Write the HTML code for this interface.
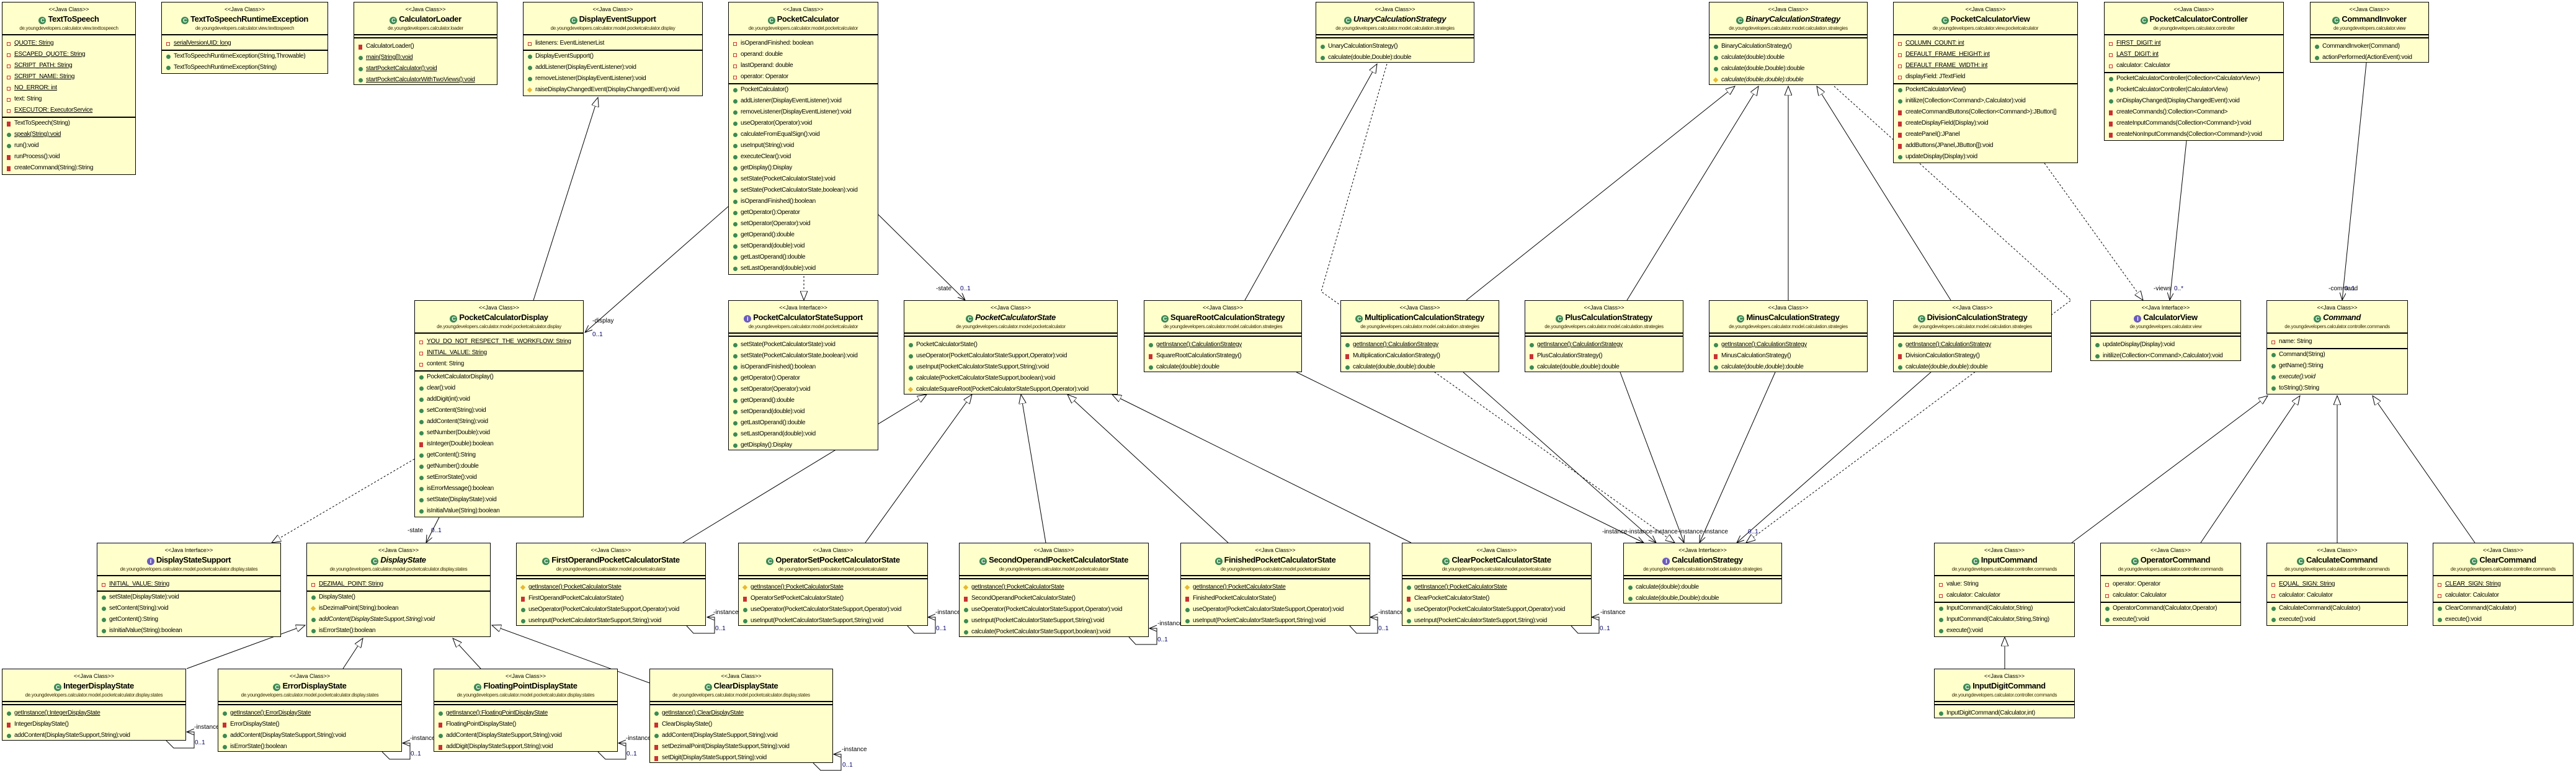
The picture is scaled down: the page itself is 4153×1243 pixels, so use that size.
<!DOCTYPE html>
<html><head><meta charset="utf-8"><style>
body{margin:0;width:4153px;height:1243px;background:#fff;position:relative;overflow:hidden;font-family:"Liberation Sans",sans-serif}
.b{position:absolute;background:#ffffcc;border:1.5px solid #000;box-sizing:border-box;overflow:hidden;z-index:2}
.h{height:51px;text-align:center;border-bottom:2px solid #000;white-space:nowrap}
.st{font-size:9px;padding-top:5px;height:12px;line-height:12px}
.nm{font-size:13px;font-weight:bold;height:19px;line-height:19px;letter-spacing:-0.4px}
.nm.it{font-style:italic}
.pk{font-size:8px;line-height:11px;color:#3a2a00;letter-spacing:-0.3px}
.ci{display:inline-block;width:12px;height:12px;border-radius:50%;background:#3c8a52;color:#fff;font-size:9px;line-height:12px;text-align:center;vertical-align:-1px;margin-right:3px;font-style:normal}
.ci.i{background:#6a5bc0}
.s{border-bottom:2px solid #000;padding:4px 0 1px}
.s.e{padding:0;height:3px}
.r{height:18px;line-height:18px;font-size:10px;white-space:nowrap;padding-left:19px;position:relative;letter-spacing:-0.3px}
.r i{position:absolute;left:7px;top:6px;width:7px;height:7px;border-radius:50%;background:#3c8a52}
.r i.p{border-radius:0;background:#c83232;width:6px;height:8px}
.r i.y{transform:rotate(45deg);background:#e8b830;border-radius:0;width:6px;height:6px}
.r i.f{border-radius:0;width:4px;height:4px;background:none;border:1px solid #c33;top:7px}
.u{text-decoration:underline}
.it2{font-style:italic}
svg{position:absolute;left:0;top:0;z-index:1}
.lb{font-family:"Liberation Sans",sans-serif;font-size:10px;fill:#000}
.lb2{font-family:"Liberation Sans",sans-serif;font-size:10px;fill:#000066}
</style></head><body>

<svg width="4153" height="1243">
<defs>
<marker id="t" markerWidth="16" markerHeight="12" refX="15" refY="6" orient="auto" markerUnits="userSpaceOnUse"><path d="M0,0 L15,6 L0,12 z" fill="#fff" stroke="#000"/></marker>
<marker id="a" markerWidth="13" markerHeight="11" refX="12" refY="5" orient="auto" markerUnits="userSpaceOnUse"><path d="M0,0 L12,5 L0,10" fill="none" stroke="#000"/></marker>
</defs>
<g stroke="#000" stroke-width="1" fill="none">
<line x1="860" y1="484" x2="964" y2="157" marker-end="url(#t)"/>
<line x1="1174" y1="333" x2="943" y2="536" marker-end="url(#a)"/>
<line x1="1296" y1="445" x2="1296" y2="484" stroke-dasharray="3,3" marker-end="url(#t)"/>
<line x1="1416" y1="346" x2="1556" y2="484" marker-end="url(#a)"/>
<line x1="2007" y1="484" x2="2220" y2="103" marker-end="url(#t)"/>
<polyline points="2236,103 2130,470 2700,875" stroke-dasharray="3,3" marker-end="url(#t)"/>
<line x1="2364" y1="484" x2="2797" y2="139" marker-end="url(#t)"/>
<line x1="2623" y1="484" x2="2835" y2="139" marker-end="url(#t)"/>
<line x1="2883" y1="484" x2="2883" y2="139" marker-end="url(#t)"/>
<line x1="3145" y1="484" x2="2929" y2="139" marker-end="url(#t)"/>
<polyline points="2957,139 3339,484 2815,875" stroke-dasharray="3,3" marker-end="url(#t)"/>
<line x1="3296" y1="263" x2="3455" y2="484" stroke-dasharray="3,3" marker-end="url(#t)"/>
<line x1="3525" y1="227" x2="3498" y2="484" marker-end="url(#a)"/>
<line x1="3815" y1="101" x2="3776" y2="484" marker-end="url(#a)"/>
<line x1="2090" y1="600" x2="2650" y2="875" marker-end="url(#a)"/>
<line x1="2359" y1="600" x2="2670" y2="875" marker-end="url(#a)"/>
<line x1="2612" y1="600" x2="2715" y2="875" marker-end="url(#a)"/>
<line x1="2862" y1="600" x2="2740" y2="875" marker-end="url(#a)"/>
<line x1="3113" y1="600" x2="2800" y2="875" marker-end="url(#a)"/>
<line x1="1101" y1="875" x2="1494" y2="636" marker-end="url(#t)"/>
<line x1="1395" y1="875" x2="1567" y2="636" marker-end="url(#t)"/>
<line x1="1686" y1="875" x2="1646" y2="636" marker-end="url(#t)"/>
<line x1="1980" y1="875" x2="1721" y2="636" marker-end="url(#t)"/>
<line x1="2275" y1="875" x2="1793" y2="636" marker-end="url(#t)"/>
<line x1="301" y1="1078" x2="492" y2="1008" marker-end="url(#t)"/>
<line x1="553" y1="1078" x2="585" y2="1029" marker-end="url(#t)"/>
<line x1="775" y1="1078" x2="730" y2="1029" marker-end="url(#t)"/>
<line x1="1047" y1="1101" x2="793" y2="1008" marker-end="url(#t)"/>
<line x1="708" y1="834" x2="687" y2="875" marker-end="url(#a)"/>
<line x1="668" y1="740" x2="438" y2="875" stroke-dasharray="3,3" marker-end="url(#t)"/>
<line x1="3340" y1="875" x2="3656" y2="638" marker-end="url(#t)"/>
<line x1="3548" y1="875" x2="3708" y2="638" marker-end="url(#t)"/>
<line x1="3768" y1="875" x2="3768" y2="638" marker-end="url(#t)"/>
<line x1="3990" y1="875" x2="3825" y2="638" marker-end="url(#t)"/>
<line x1="3232" y1="1078" x2="3232" y2="1027" marker-end="url(#t)"/>
<polyline points="1107,1009 1118,1021 1152,1021 1152,995 1140,995" marker-end="url(#a)"/>
<polyline points="1463,1009 1474,1021 1508,1021 1508,995 1496,995" marker-end="url(#a)"/>
<polyline points="1820,1027 1831,1039 1865,1039 1865,1013 1853,1013" marker-end="url(#a)"/>
<polyline points="2176,1009 2187,1021 2221,1021 2221,995 2209,995" marker-end="url(#a)"/>
<polyline points="2533,1009 2544,1021 2578,1021 2578,995 2566,995" marker-end="url(#a)"/>
<polyline points="268,1194 280,1206 313,1206 313,1180 301,1180" marker-end="url(#a)"/>
<polyline points="616,1212 628,1224 661,1224 661,1198 649,1198" marker-end="url(#a)"/>
<polyline points="964,1212 976,1224 1009,1224 1009,1198 997,1198" marker-end="url(#a)"/>
<polyline points="1311,1230 1323,1242 1356,1242 1356,1216 1344,1216" marker-end="url(#a)"/>
</g>
<text class="lb" x="955" y="520">-display</text><text class="lb2" x="955" y="542">0..1</text>
<text class="lb" x="1509" y="468">-state</text><text class="lb2" x="1548" y="468">0..1</text>
<text class="lb" x="3472" y="468">-views</text><text class="lb2" x="3505" y="468">0..*</text>
<text class="lb" x="3754" y="468">-command</text><text class="lb2" x="3780" y="468">0..1</text>
<text class="lb" x="657" y="858">-state</text><text class="lb2" x="695" y="858">0..1</text>
<text class="lb" x="2583" y="860">-instance-instance-instance-instance-instance</text>
<text class="lb2" x="2818" y="860">0..1</text>
<text class="lb" x="1150" y="990">-instance</text><text class="lb2" x="1153" y="1016">0..1</text>
<text class="lb" x="1508" y="990">-instance</text><text class="lb2" x="1509" y="1016">0..1</text>
<text class="lb" x="1866" y="1008">-instance</text><text class="lb2" x="1866" y="1034">0..1</text>
<text class="lb" x="2222" y="990">-instance</text><text class="lb2" x="2222" y="1016">0..1</text>
<text class="lb" x="2580" y="990">-instance</text><text class="lb2" x="2579" y="1016">0..1</text>
<text class="lb" x="313" y="1175">-instance</text><text class="lb2" x="314" y="1200">0..1</text>
<text class="lb" x="661" y="1193">-instance</text><text class="lb2" x="662" y="1218">0..1</text>
<text class="lb" x="1009" y="1193">-instance</text><text class="lb2" x="1010" y="1218">0..1</text>
<text class="lb" x="1357" y="1211">-instance</text><text class="lb2" x="1358" y="1236">0..1</text>
</svg>

<!-- Row 1 -->
<div class="b" style="left:3px;top:3px;width:216px;height:279px"><div class="h"><div class="st">&lt;&lt;Java Class&gt;&gt;</div><div class="nm"><span class="ci">C</span>TextToSpeech</div><div class="pk">de.youngdevelopers.calculator.view.texttospeech</div></div>
<div class="s"><div class="r"><i class="f"></i><span class="u">QUOTE: String</span></div><div class="r"><i class="f"></i><span class="u">ESCAPED_QUOTE: String</span></div><div class="r"><i class="f"></i><span class="u">SCRIPT_PATH: String</span></div><div class="r"><i class="f"></i><span class="u">SCRIPT_NAME: String</span></div><div class="r"><i class="f"></i><span class="u">NO_ERROR: int</span></div><div class="r"><i class="f"></i>text: String</div><div class="r"><i class="f"></i><span class="u">EXECUTOR: ExecutorService</span></div></div>
<div><div class="r"><i class="p"></i>TextToSpeech(String)</div><div class="r"><i></i><span class="u">speak(String):void</span></div><div class="r"><i></i>run():void</div><div class="r"><i class="p"></i>runProcess():void</div><div class="r"><i class="p"></i>createCommand(String):String</div></div></div>

<div class="b" style="left:260px;top:3px;width:269px;height:116px"><div class="h"><div class="st">&lt;&lt;Java Class&gt;&gt;</div><div class="nm"><span class="ci">C</span>TextToSpeechRuntimeException</div><div class="pk">de.youngdevelopers.calculator.view.texttospeech</div></div>
<div class="s"><div class="r"><i class="f"></i><span class="u">serialVersionUID: long</span></div></div>
<div><div class="r"><i></i>TextToSpeechRuntimeException(String,Throwable)</div><div class="r"><i></i>TextToSpeechRuntimeException(String)</div></div></div>

<div class="b" style="left:570px;top:3px;width:232px;height:134px"><div class="h"><div class="st">&lt;&lt;Java Class&gt;&gt;</div><div class="nm"><span class="ci">C</span>CalculatorLoader</div><div class="pk">de.youngdevelopers.calculator.loader</div></div>
<div class="s e"></div>
<div style="padding-top:4px"><div class="r"><i class="p"></i>CalculatorLoader()</div><div class="r"><i></i><span class="u">main(String[]):void</span></div><div class="r"><i></i><span class="u">startPocketCalculator():void</span></div><div class="r"><i></i><span class="u">startPocketCalculatorWithTwoViews():void</span></div></div></div>

<div class="b" style="left:843px;top:3px;width:290px;height:152px"><div class="h"><div class="st">&lt;&lt;Java Class&gt;&gt;</div><div class="nm"><span class="ci">C</span>DisplayEventSupport</div><div class="pk">de.youngdevelopers.calculator.model.pocketcalculator.display</div></div>
<div class="s"><div class="r"><i class="f"></i>listeners: EventListenerList</div></div>
<div><div class="r"><i></i>DisplayEventSupport()</div><div class="r"><i></i>addListener(DisplayEventListener):void</div><div class="r"><i></i>removeListener(DisplayEventListener):void</div><div class="r"><i class="y"></i>raiseDisplayChangedEvent(DisplayChangedEvent):void</div></div></div>

<div class="b" style="left:1174px;top:3px;width:242px;height:440px"><div class="h"><div class="st">&lt;&lt;Java Class&gt;&gt;</div><div class="nm"><span class="ci">C</span>PocketCalculator</div><div class="pk">de.youngdevelopers.calculator.model.pocketcalculator</div></div>
<div class="s"><div class="r"><i class="f"></i>isOperandFinished: boolean</div><div class="r"><i class="f"></i>operand: double</div><div class="r"><i class="f"></i>lastOperand: double</div><div class="r"><i class="f"></i>operator: Operator</div></div>
<div><div class="r"><i></i>PocketCalculator()</div><div class="r"><i></i>addListener(DisplayEventListener):void</div><div class="r"><i></i>removeListener(DisplayEventListener):void</div><div class="r"><i></i>useOperator(Operator):void</div><div class="r"><i></i>calculateFromEqualSign():void</div><div class="r"><i></i>useInput(String):void</div><div class="r"><i></i>executeClear():void</div><div class="r"><i></i>getDisplay():Display</div><div class="r"><i></i>setState(PocketCalculatorState):void</div><div class="r"><i></i>setState(PocketCalculatorState,boolean):void</div><div class="r"><i></i>isOperandFinished():boolean</div><div class="r"><i></i>getOperator():Operator</div><div class="r"><i></i>setOperator(Operator):void</div><div class="r"><i></i>getOperand():double</div><div class="r"><i></i>setOperand(double):void</div><div class="r"><i></i>getLastOperand():double</div><div class="r"><i></i>setLastOperand(double):void</div></div></div>

<div class="b" style="left:2121px;top:3px;width:256px;height:98px"><div class="h"><div class="st">&lt;&lt;Java Class&gt;&gt;</div><div class="nm it"><span class="ci">C</span>UnaryCalculationStrategy</div><div class="pk">de.youngdevelopers.calculator.model.calculation.strategies</div></div>
<div class="s e"></div>
<div style="padding-top:4px"><div class="r"><i></i>UnaryCalculationStrategy()</div><div class="r"><i></i>calculate(double,Double):double</div></div></div>

<div class="b" style="left:2755px;top:3px;width:256px;height:134px"><div class="h"><div class="st">&lt;&lt;Java Class&gt;&gt;</div><div class="nm it"><span class="ci">C</span>BinaryCalculationStrategy</div><div class="pk">de.youngdevelopers.calculator.model.calculation.strategies</div></div>
<div class="s e"></div>
<div style="padding-top:4px"><div class="r"><i></i>BinaryCalculationStrategy()</div><div class="r"><i></i>calculate(double):double</div><div class="r"><i></i>calculate(double,Double):double</div><div class="r it2"><i class="y"></i>calculate(double,double):double</div></div></div>

<div class="b" style="left:3052px;top:3px;width:298px;height:260px"><div class="h"><div class="st">&lt;&lt;Java Class&gt;&gt;</div><div class="nm"><span class="ci">C</span>PocketCalculatorView</div><div class="pk">de.youngdevelopers.calculator.view.pocketcalculator</div></div>
<div class="s"><div class="r"><i class="f"></i><span class="u">COLUMN_COUNT: int</span></div><div class="r"><i class="f"></i><span class="u">DEFAULT_FRAME_HEIGHT: int</span></div><div class="r"><i class="f"></i><span class="u">DEFAULT_FRAME_WIDTH: int</span></div><div class="r"><i class="f"></i>displayField: JTextField</div></div>
<div><div class="r"><i></i>PocketCalculatorView()</div><div class="r"><i></i>initilize(Collection&lt;Command&gt;,Calculator):void</div><div class="r"><i class="p"></i>createCommandButtons(Collection&lt;Command&gt;):JButton[]</div><div class="r"><i class="p"></i>createDisplayField(Display):void</div><div class="r"><i class="p"></i>createPanel():JPanel</div><div class="r"><i class="p"></i>addButtons(JPanel,JButton[]):void</div><div class="r"><i></i>updateDisplay(Display):void</div></div></div>

<div class="b" style="left:3392px;top:3px;width:290px;height:224px"><div class="h"><div class="st">&lt;&lt;Java Class&gt;&gt;</div><div class="nm"><span class="ci">C</span>PocketCalculatorController</div><div class="pk">de.youngdevelopers.calculator.controller</div></div>
<div class="s"><div class="r"><i class="f"></i><span class="u">FIRST_DIGIT: int</span></div><div class="r"><i class="f"></i><span class="u">LAST_DIGIT: int</span></div><div class="r"><i class="f"></i>calculator: Calculator</div></div>
<div><div class="r"><i></i>PocketCalculatorController(Collection&lt;CalculatorView&gt;)</div><div class="r"><i></i>PocketCalculatorController(CalculatorView)</div><div class="r"><i></i>onDisplayChanged(DisplayChangedEvent):void</div><div class="r"><i class="p"></i>createCommands():Collection&lt;Command&gt;</div><div class="r"><i class="p"></i>createInputCommands(Collection&lt;Command&gt;):void</div><div class="r"><i class="p"></i>createNonInputCommands(Collection&lt;Command&gt;):void</div></div></div>

<div class="b" style="left:3724px;top:3px;width:192px;height:98px"><div class="h"><div class="st">&lt;&lt;Java Class&gt;&gt;</div><div class="nm"><span class="ci">C</span>CommandInvoker</div><div class="pk">de.youngdevelopers.calculator.view</div></div>
<div class="s e"></div>
<div style="padding-top:4px"><div class="r"><i></i>CommandInvoker(Command)</div><div class="r"><i></i>actionPerformed(ActionEvent):void</div></div></div>

<!-- Row 2 -->
<div class="b" style="left:668px;top:484px;width:273px;height:350px"><div class="h"><div class="st">&lt;&lt;Java Class&gt;&gt;</div><div class="nm"><span class="ci">C</span>PocketCalculatorDisplay</div><div class="pk">de.youngdevelopers.calculator.model.pocketcalculator.display</div></div>
<div class="s"><div class="r"><i class="f"></i><span class="u">YOU_DO_NOT_RESPECT_THE_WORKFLOW: String</span></div><div class="r"><i class="f"></i><span class="u">INITIAL_VALUE: String</span></div><div class="r"><i class="f"></i>content: String</div></div>
<div><div class="r"><i></i>PocketCalculatorDisplay()</div><div class="r"><i></i>clear():void</div><div class="r"><i></i>addDigit(int):void</div><div class="r"><i></i>setContent(String):void</div><div class="r"><i></i>addContent(String):void</div><div class="r"><i></i>setNumber(Double):void</div><div class="r"><i class="p"></i>isInteger(Double):boolean</div><div class="r"><i></i>getContent():String</div><div class="r"><i></i>getNumber():double</div><div class="r"><i></i>setErrorState():void</div><div class="r"><i></i>isErrorMessage():boolean</div><div class="r"><i></i>setState(DisplayState):void</div><div class="r"><i></i>isInitialValue(String):boolean</div></div></div>

<div class="b" style="left:1174px;top:484px;width:242px;height:242px"><div class="h"><div class="st">&lt;&lt;Java Interface&gt;&gt;</div><div class="nm"><span class="ci i">I</span>PocketCalculatorStateSupport</div><div class="pk">de.youngdevelopers.calculator.model.pocketcalculator</div></div>
<div class="s e"></div>
<div style="padding-top:4px"><div class="r"><i></i>setState(PocketCalculatorState):void</div><div class="r"><i></i>setState(PocketCalculatorState,boolean):void</div><div class="r"><i></i>isOperandFinished():boolean</div><div class="r"><i></i>getOperator():Operator</div><div class="r"><i></i>setOperator(Operator):void</div><div class="r"><i></i>getOperand():double</div><div class="r"><i></i>setOperand(double):void</div><div class="r"><i></i>getLastOperand():double</div><div class="r"><i></i>setLastOperand(double):void</div><div class="r"><i></i>getDisplay():Display</div></div></div>

<div class="b" style="left:1457px;top:484px;width:345px;height:152px"><div class="h"><div class="st">&lt;&lt;Java Class&gt;&gt;</div><div class="nm it"><span class="ci">C</span>PocketCalculatorState</div><div class="pk">de.youngdevelopers.calculator.model.pocketcalculator</div></div>
<div class="s e"></div>
<div style="padding-top:4px"><div class="r"><i></i>PocketCalculatorState()</div><div class="r"><i></i>useOperator(PocketCalculatorStateSupport,Operator):void</div><div class="r"><i></i>useInput(PocketCalculatorStateSupport,String):void</div><div class="r"><i></i>calculate(PocketCalculatorStateSupport,boolean):void</div><div class="r"><i class="y"></i>calculateSquareRoot(PocketCalculatorStateSupport,Operator):void</div></div></div>

<div class="b" style="left:1844px;top:484px;width:255px;height:116px"><div class="h"><div class="st">&lt;&lt;Java Class&gt;&gt;</div><div class="nm"><span class="ci">C</span>SquareRootCalculationStrategy</div><div class="pk">de.youngdevelopers.calculator.model.calculation.strategies</div></div>
<div class="s e"></div>
<div style="padding-top:4px"><div class="r"><i></i><span class="u">getInstance():CalculationStrategy</span></div><div class="r"><i class="p"></i>SquareRootCalculationStrategy()</div><div class="r"><i></i>calculate(double):double</div></div></div>

<div class="b" style="left:2161px;top:484px;width:256px;height:116px"><div class="h"><div class="st">&lt;&lt;Java Class&gt;&gt;</div><div class="nm"><span class="ci">C</span>MultiplicationCalculationStrategy</div><div class="pk">de.youngdevelopers.calculator.model.calculation.strategies</div></div>
<div class="s e"></div>
<div style="padding-top:4px"><div class="r"><i></i><span class="u">getInstance():CalculationStrategy</span></div><div class="r"><i class="p"></i>MultiplicationCalculationStrategy()</div><div class="r"><i></i>calculate(double,double):double</div></div></div>

<div class="b" style="left:2458px;top:484px;width:256px;height:116px"><div class="h"><div class="st">&lt;&lt;Java Class&gt;&gt;</div><div class="nm"><span class="ci">C</span>PlusCalculationStrategy</div><div class="pk">de.youngdevelopers.calculator.model.calculation.strategies</div></div>
<div class="s e"></div>
<div style="padding-top:4px"><div class="r"><i></i><span class="u">getInstance():CalculationStrategy</span></div><div class="r"><i class="p"></i>PlusCalculationStrategy()</div><div class="r"><i></i>calculate(double,double):double</div></div></div>

<div class="b" style="left:2755px;top:484px;width:256px;height:116px"><div class="h"><div class="st">&lt;&lt;Java Class&gt;&gt;</div><div class="nm"><span class="ci">C</span>MinusCalculationStrategy</div><div class="pk">de.youngdevelopers.calculator.model.calculation.strategies</div></div>
<div class="s e"></div>
<div style="padding-top:4px"><div class="r"><i></i><span class="u">getInstance():CalculationStrategy</span></div><div class="r"><i class="p"></i>MinusCalculationStrategy()</div><div class="r"><i></i>calculate(double,double):double</div></div></div>

<div class="b" style="left:3052px;top:484px;width:256px;height:116px"><div class="h"><div class="st">&lt;&lt;Java Class&gt;&gt;</div><div class="nm"><span class="ci">C</span>DivisionCalculationStrategy</div><div class="pk">de.youngdevelopers.calculator.model.calculation.strategies</div></div>
<div class="s e"></div>
<div style="padding-top:4px"><div class="r"><i></i><span class="u">getInstance():CalculationStrategy</span></div><div class="r"><i class="p"></i>DivisionCalculationStrategy()</div><div class="r"><i></i>calculate(double,double):double</div></div></div>

<div class="b" style="left:3370px;top:484px;width:243px;height:98px"><div class="h"><div class="st">&lt;&lt;Java Interface&gt;&gt;</div><div class="nm"><span class="ci i">I</span>CalculatorView</div><div class="pk">de.youngdevelopers.calculator.view</div></div>
<div class="s e"></div>
<div style="padding-top:4px"><div class="r"><i></i>updateDisplay(Display):void</div><div class="r"><i></i>initilize(Collection&lt;Command&gt;,Calculator):void</div></div></div>

<div class="b" style="left:3654px;top:484px;width:228px;height:152px"><div class="h"><div class="st">&lt;&lt;Java Class&gt;&gt;</div><div class="nm it"><span class="ci">C</span>Command</div><div class="pk">de.youngdevelopers.calculator.controller.commands</div></div>
<div class="s"><div class="r"><i class="f"></i>name: String</div></div>
<div><div class="r"><i></i>Command(String)</div><div class="r"><i></i>getName():String</div><div class="r it2"><i></i>execute():void</div><div class="r"><i></i>toString():String</div></div></div>

<!-- Row 3 -->
<div class="b" style="left:156px;top:875px;width:297px;height:152px"><div class="h"><div class="st">&lt;&lt;Java Interface&gt;&gt;</div><div class="nm"><span class="ci i">I</span>DisplayStateSupport</div><div class="pk">de.youngdevelopers.calculator.model.pocketcalculator.display.states</div></div>
<div class="s"><div class="r"><i class="f"></i><span class="u">INITIAL_VALUE: String</span></div></div>
<div><div class="r"><i></i>setState(DisplayState):void</div><div class="r"><i></i>setContent(String):void</div><div class="r"><i></i>getContent():String</div><div class="r"><i></i>isInitialValue(String):boolean</div></div></div>

<div class="b" style="left:494px;top:875px;width:297px;height:152px"><div class="h"><div class="st">&lt;&lt;Java Class&gt;&gt;</div><div class="nm it"><span class="ci">C</span>DisplayState</div><div class="pk">de.youngdevelopers.calculator.model.pocketcalculator.display.states</div></div>
<div class="s"><div class="r"><i class="f"></i><span class="u">DEZIMAL_POINT: String</span></div></div>
<div><div class="r"><i></i>DisplayState()</div><div class="r"><i class="y"></i>isDezimalPoint(String):boolean</div><div class="r it2"><i></i>addContent(DisplayStateSupport,String):void</div><div class="r"><i></i>isErrorState():boolean</div></div></div>

<div class="b" style="left:832px;top:875px;width:306px;height:134px"><div class="h"><div class="st">&lt;&lt;Java Class&gt;&gt;</div><div class="nm"><span class="ci">C</span>FirstOperandPocketCalculatorState</div><div class="pk">de.youngdevelopers.calculator.model.pocketcalculator</div></div>
<div class="s e"></div>
<div style="padding-top:4px"><div class="r"><i class="y"></i><span class="u">getInstance():PocketCalculatorState</span></div><div class="r"><i class="p"></i>FirstOperandPocketCalculatorState()</div><div class="r"><i></i>useOperator(PocketCalculatorStateSupport,Operator):void</div><div class="r"><i></i>useInput(PocketCalculatorStateSupport,String):void</div></div></div>

<div class="b" style="left:1190px;top:875px;width:306px;height:134px"><div class="h"><div class="st">&lt;&lt;Java Class&gt;&gt;</div><div class="nm"><span class="ci">C</span>OperatorSetPocketCalculatorState</div><div class="pk">de.youngdevelopers.calculator.model.pocketcalculator</div></div>
<div class="s e"></div>
<div style="padding-top:4px"><div class="r"><i class="y"></i><span class="u">getInstance():PocketCalculatorState</span></div><div class="r"><i class="p"></i>OperatorSetPocketCalculatorState()</div><div class="r"><i></i>useOperator(PocketCalculatorStateSupport,Operator):void</div><div class="r"><i></i>useInput(PocketCalculatorStateSupport,String):void</div></div></div>

<div class="b" style="left:1546px;top:875px;width:306px;height:152px"><div class="h"><div class="st">&lt;&lt;Java Class&gt;&gt;</div><div class="nm"><span class="ci">C</span>SecondOperandPocketCalculatorState</div><div class="pk">de.youngdevelopers.calculator.model.pocketcalculator</div></div>
<div class="s e"></div>
<div style="padding-top:4px"><div class="r"><i class="y"></i><span class="u">getInstance():PocketCalculatorState</span></div><div class="r"><i class="p"></i>SecondOperandPocketCalculatorState()</div><div class="r"><i></i>useOperator(PocketCalculatorStateSupport,Operator):void</div><div class="r"><i></i>useInput(PocketCalculatorStateSupport,String):void</div><div class="r"><i></i>calculate(PocketCalculatorStateSupport,boolean):void</div></div></div>

<div class="b" style="left:1903px;top:875px;width:306px;height:134px"><div class="h"><div class="st">&lt;&lt;Java Class&gt;&gt;</div><div class="nm"><span class="ci">C</span>FinishedPocketCalculatorState</div><div class="pk">de.youngdevelopers.calculator.model.pocketcalculator</div></div>
<div class="s e"></div>
<div style="padding-top:4px"><div class="r"><i class="y"></i><span class="u">getInstance():PocketCalculatorState</span></div><div class="r"><i class="p"></i>FinishedPocketCalculatorState()</div><div class="r"><i></i>useOperator(PocketCalculatorStateSupport,Operator):void</div><div class="r"><i></i>useInput(PocketCalculatorStateSupport,String):void</div></div></div>

<div class="b" style="left:2260px;top:875px;width:306px;height:134px"><div class="h"><div class="st">&lt;&lt;Java Class&gt;&gt;</div><div class="nm"><span class="ci">C</span>ClearPocketCalculatorState</div><div class="pk">de.youngdevelopers.calculator.model.pocketcalculator</div></div>
<div class="s e"></div>
<div style="padding-top:4px"><div class="r"><i></i><span class="u">getInstance():PocketCalculatorState</span></div><div class="r"><i class="p"></i>ClearPocketCalculatorState()</div><div class="r"><i></i>useOperator(PocketCalculatorStateSupport,Operator):void</div><div class="r"><i></i>useInput(PocketCalculatorStateSupport,String):void</div></div></div>

<div class="b" style="left:2617px;top:875px;width:256px;height:98px"><div class="h"><div class="st">&lt;&lt;Java Interface&gt;&gt;</div><div class="nm"><span class="ci i">I</span>CalculationStrategy</div><div class="pk">de.youngdevelopers.calculator.model.calculation.strategies</div></div>
<div class="s e"></div>
<div style="padding-top:4px"><div class="r"><i></i>calculate(double):double</div><div class="r"><i></i>calculate(double,Double):double</div></div></div>

<div class="b" style="left:3118px;top:875px;width:227px;height:152px"><div class="h"><div class="st">&lt;&lt;Java Class&gt;&gt;</div><div class="nm"><span class="ci">C</span>InputCommand</div><div class="pk">de.youngdevelopers.calculator.controller.commands</div></div>
<div class="s"><div class="r"><i class="f"></i>value: String</div><div class="r"><i class="f"></i>calculator: Calculator</div></div>
<div><div class="r"><i></i>InputCommand(Calculator,String)</div><div class="r"><i></i>InputCommand(Calculator,String,String)</div><div class="r"><i></i>execute():void</div></div></div>

<div class="b" style="left:3386px;top:875px;width:227px;height:134px"><div class="h"><div class="st">&lt;&lt;Java Class&gt;&gt;</div><div class="nm"><span class="ci">C</span>OperatorCommand</div><div class="pk">de.youngdevelopers.calculator.controller.commands</div></div>
<div class="s"><div class="r"><i class="f"></i>operator: Operator</div><div class="r"><i class="f"></i>calculator: Calculator</div></div>
<div><div class="r"><i></i>OperatorCommand(Calculator,Operator)</div><div class="r"><i></i>execute():void</div></div></div>

<div class="b" style="left:3654px;top:875px;width:228px;height:134px"><div class="h"><div class="st">&lt;&lt;Java Class&gt;&gt;</div><div class="nm"><span class="ci">C</span>CalculateCommand</div><div class="pk">de.youngdevelopers.calculator.controller.commands</div></div>
<div class="s"><div class="r"><i class="f"></i><span class="u">EQUAL_SIGN: String</span></div><div class="r"><i class="f"></i>calculator: Calculator</div></div>
<div><div class="r"><i></i>CalculateCommand(Calculator)</div><div class="r"><i></i>execute():void</div></div></div>

<div class="b" style="left:3922px;top:875px;width:227px;height:134px"><div class="h"><div class="st">&lt;&lt;Java Class&gt;&gt;</div><div class="nm"><span class="ci">C</span>ClearCommand</div><div class="pk">de.youngdevelopers.calculator.controller.commands</div></div>
<div class="s"><div class="r"><i class="f"></i><span class="u">CLEAR_SIGN: String</span></div><div class="r"><i class="f"></i>calculator: Calculator</div></div>
<div><div class="r"><i></i>ClearCommand(Calculator)</div><div class="r"><i></i>execute():void</div></div></div>

<!-- Row 4 -->
<div class="b" style="left:3px;top:1078px;width:297px;height:116px"><div class="h"><div class="st">&lt;&lt;Java Class&gt;&gt;</div><div class="nm"><span class="ci">C</span>IntegerDisplayState</div><div class="pk">de.youngdevelopers.calculator.model.pocketcalculator.display.states</div></div>
<div class="s e"></div>
<div style="padding-top:4px"><div class="r"><i></i><span class="u">getInstance():IntegerDisplayState</span></div><div class="r"><i class="p"></i>IntegerDisplayState()</div><div class="r"><i></i>addContent(DisplayStateSupport,String):void</div></div></div>

<div class="b" style="left:351px;top:1078px;width:297px;height:134px"><div class="h"><div class="st">&lt;&lt;Java Class&gt;&gt;</div><div class="nm"><span class="ci">C</span>ErrorDisplayState</div><div class="pk">de.youngdevelopers.calculator.model.pocketcalculator.display.states</div></div>
<div class="s e"></div>
<div style="padding-top:4px"><div class="r"><i></i><span class="u">getInstance():ErrorDisplayState</span></div><div class="r"><i class="p"></i>ErrorDisplayState()</div><div class="r"><i></i>addContent(DisplayStateSupport,String):void</div><div class="r"><i></i>isErrorState():boolean</div></div></div>

<div class="b" style="left:699px;top:1078px;width:297px;height:134px"><div class="h"><div class="st">&lt;&lt;Java Class&gt;&gt;</div><div class="nm"><span class="ci">C</span>FloatingPointDisplayState</div><div class="pk">de.youngdevelopers.calculator.model.pocketcalculator.display.states</div></div>
<div class="s e"></div>
<div style="padding-top:4px"><div class="r"><i></i><span class="u">getInstance():FloatingPointDisplayState</span></div><div class="r"><i class="p"></i>FloatingPointDisplayState()</div><div class="r"><i></i>addContent(DisplayStateSupport,String):void</div><div class="r"><i class="p"></i>addDigit(DisplayStateSupport,String):void</div></div></div>

<div class="b" style="left:1047px;top:1078px;width:296px;height:152px"><div class="h"><div class="st">&lt;&lt;Java Class&gt;&gt;</div><div class="nm"><span class="ci">C</span>ClearDisplayState</div><div class="pk">de.youngdevelopers.calculator.model.pocketcalculator.display.states</div></div>
<div class="s e"></div>
<div style="padding-top:4px"><div class="r"><i></i><span class="u">getInstance():ClearDisplayState</span></div><div class="r"><i class="p"></i>ClearDisplayState()</div><div class="r"><i></i>addContent(DisplayStateSupport,String):void</div><div class="r"><i class="p"></i>setDezimalPoint(DisplayStateSupport,String):void</div><div class="r"><i class="p"></i>setDigit(DisplayStateSupport,String):void</div></div></div>

<div class="b" style="left:3118px;top:1078px;width:227px;height:80px"><div class="h"><div class="st">&lt;&lt;Java Class&gt;&gt;</div><div class="nm"><span class="ci">C</span>InputDigitCommand</div><div class="pk">de.youngdevelopers.calculator.controller.commands</div></div>
<div class="s e"></div>
<div style="padding-top:4px"><div class="r"><i></i>InputDigitCommand(Calculator,int)</div></div></div>

</body></html>
